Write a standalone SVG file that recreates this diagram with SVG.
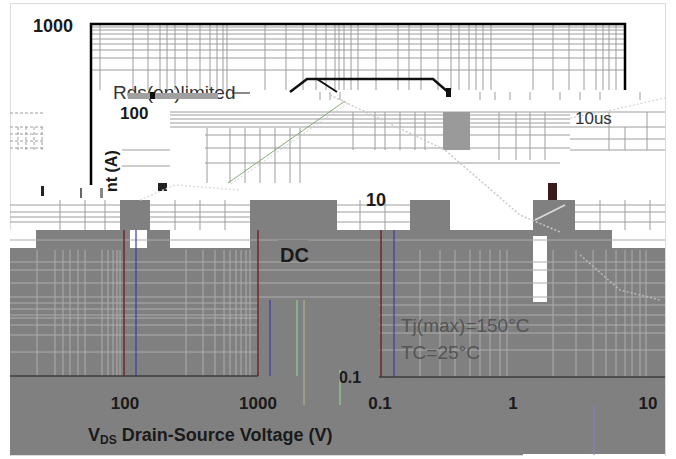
<svg xmlns="http://www.w3.org/2000/svg" width="676" height="459" viewBox="0 0 676 459">
<style>
.g{stroke:#9c9c9c;stroke-width:1;fill:none}
.gg{stroke:#adadad;stroke-width:1;fill:none}
.ax{stroke:#000;stroke-width:2.5;fill:none}
.bx{stroke:#3c3c3c;stroke-width:1.5;fill:none}
.cv{stroke:#111;stroke-width:2.5;fill:none}
.lbl{font-family:"Liberation Sans",Arial,sans-serif;font-weight:bold;fill:#1a1a1a}
.thin{font-family:"Liberation Sans",Arial,sans-serif;fill:#333}
.gt{font-family:"Liberation Sans",Arial,sans-serif;fill:#555}
</style>
<rect x="0" y="0" width="676" height="459" fill="#fff"/>
<rect x="10.5" y="3.5" width="655" height="452" fill="#fff" stroke="#dcdcdc"/>

<!-- top chart grid -->
<g id="top-grid">
<path class="g" d="M90 27H625M90 30H625M90 34H625M90 39H625M90 44H625M90 50H625M90 58H625M90 70H625"/>
<path class="g" d="M100 24V90M133 24V90M148 24V90M160 24V90M167 24V90M175 24V90M187 24V90M200 24V90M210 24V90M217 24V90M223 24V90M227 24V90M265 24V90M286 24V90M303 24V90M316 24V90M326 24V90M335 24V90M339 24V90M344 24V90M351 24V90M358 24V90M376 24V90M398 24V90M409 24V90M421 24V90M438 24V90M451 24V90M459 24V90M469 24V90M476 24V90M483 24V90M491 24V90M533 24V90M553 24V90M569 24V90M584 24V90M596 24V90M603 24V90M609 24V90M616 24V90"/>
<path class="ax" d="M91 185V24H625V90"/>
</g>

<!-- second layer grid -->
<g id="mid-grid">
<path class="g" d="M170 112H665M170 115H570M170 119H570M170 123H570M170 127H665M205 135H570M205 148H570M205 163H560M122 150H170M122 166H170M570 139H665M570 150H665"/>
<path class="g" d="M207 128V183M230 128V183M245 128V183M260 128V183M275 128V183M290 128V183M300 128V183M353 112V150M375 112V150M385 112V150M400 112V150M415 112V150M425 112V150M499 112V160M516 112V160M530 112V160M545 112V160M609 112V150M647 112V150M625 127V150"/>
<path class="g" d="M10 113H43M10 127H43M10 134H43M10 141H43M10 148H43M18 127V150M26 127V150M34 127V150M42 127V150" stroke-dasharray="3 2"/>
<path class="g" d="M320 92V100M330 92V100M340 92V100M480 92V100M495 92V100M510 92V100M530 92V100M560 92V100M580 92V100M600 92V100M640 92V100"/>
<rect x="443" y="112" width="27" height="38" fill="#9a9a9a"/>
</g>

<!-- glitch strip row -->
<g id="strip">
<path class="g" d="M10 205H120M10 212H120M10 217H120M10 222H120M150 205H250M150 212H250M150 217H250M150 222H250M336 205H410M336 212H410M336 222H410M575 205H665M575 212H665M575 222H665"/>
<path class="g" d="M60 200V230M85 200V230M105 200V230M175 200V230M200 200V230M225 200V230M360 200V230M385 200V230M600 200V230M625 200V230M650 200V230"/>
<rect x="158" y="183" width="9" height="8" fill="#222"/>
<rect x="41" y="186" width="3" height="10" fill="#222"/>
<rect x="548" y="183" width="9" height="17" fill="#3a1a1a"/>
<rect x="80" y="188" width="2" height="10" fill="#666"/>
<rect x="100" y="188" width="3" height="10" fill="#888"/>
</g>

<!-- grey lower region -->
<g id="grey-region">
<rect x="10" y="230" width="655" height="225" fill="#808080"/>
<rect x="120" y="200" width="30" height="30" fill="#808080"/>
<rect x="250" y="200" width="87" height="30" fill="#808080"/>
<rect x="410" y="200" width="40" height="30" fill="#808080"/>
<rect x="533" y="200" width="42" height="30" fill="#808080"/>
<rect x="10" y="230" width="26" height="18" fill="#fff"/>
<rect x="130" y="230" width="17" height="18" fill="#fff"/>
<rect x="170" y="230" width="80" height="18" fill="#fff"/>
<rect x="612" y="230" width="53" height="18" fill="#fff"/>
<rect x="533" y="236" width="14" height="66" fill="#fff"/>
<rect x="451" y="203" width="82" height="25" fill="#fff"/>
<rect x="523" y="454" width="142" height="2" fill="#fff"/>
<path class="gg" d="M10 240H665M10 262H665M10 270H665M10 283H665M10 297H665M10 303H258M10 309H258M10 315H258M10 318H258M10 325H258M10 335H258M10 352H258M379 305H665M379 315H665M379 325H665M379 333H665M379 350H665"/>
<path class="gg" d="M37 250V376M55 250V376M63 250V376M70 250V376M78 250V376M85 250V376M102 250V376M108 250V376M113 250V376M117 250V376M120 250V376M186 250V376M203 250V376M215 250V376M224 250V376M230 250V376M236 250V376M241 250V376M246 250V376M250 250V376M420 250V377M440 250V377M455 250V377M470 250V377M480 250V377M490 250V377M500 250V377M507 250V377M553 250V377M576 250V377M593 250V377M606 250V377M616 250V377M625 250V377M632 250V377M640 250V377M646 250V377"/>
<path d="M124 230V376M258 230V376M381 230V377" stroke="#6e2a2a" stroke-width="1.5"/>
<path d="M136 230V376M394 230V377M270 300V376" stroke="#3a3aa8" stroke-width="1.2"/>
<path d="M297 300V376M340 370V405" stroke="#8fd08f" stroke-width="1.2"/>
<path d="M304 300V405" stroke="#b8b090" stroke-width="1.2"/>
<path d="M594 406V455" stroke="#8080d0" stroke-width="1"/>
<path class="bx" d="M10 376H258M379 377H665"/>
</g>

<!-- connectors / curves -->
<g id="connectors">
<path class="cv" d="M290 92L307 79H433L448 92"/>
<path d="M317 79L337 92" stroke="#111" stroke-width="2" fill="none"/>
<rect x="446" y="88" width="5" height="9" fill="#111"/>
<path d="M232 93H250" stroke="#111" stroke-width="1"/>
<path d="M228 183L345 101" stroke="#88a878" stroke-width="1" fill="none"/>
<path d="M231 184L348 103" stroke="#ccc" stroke-width="1" fill="none" stroke-dasharray="2 2"/>
<path d="M330 95L445 150L520 215L560 232" stroke="#c8c8c8" stroke-width="1.5" fill="none" stroke-dasharray="2 2"/>
<path d="M140 200L175 185L240 190" stroke="#ddd" stroke-width="1.5" fill="none" stroke-dasharray="2 2"/>
<path d="M535 220L565 205" stroke="#ddd" stroke-width="1.5" fill="none"/>
<path d="M570 118L612 110L665 98" stroke="#ccc" stroke-width="1" fill="none" stroke-dasharray="2 2"/>
<path d="M580 255L620 290L660 300" stroke="#b8b8b8" stroke-width="1.5" fill="none" stroke-dasharray="2 2"/>
</g>

<!-- labels -->
<g id="labels">
<text class="lbl" x="33" y="32" font-size="18">1000</text>
<text class="lbl" x="120" y="119" font-size="17">100</text>
<text class="thin" x="113" y="99" font-size="19">Rds(on)limited</text>
<rect x="128" y="93" width="90" height="6" fill="#a0a0a0"/>
<rect x="150" y="92" width="5" height="7" fill="#111"/>
<text class="lbl" x="117" y="192" font-size="16" transform="rotate(-90 117 192)">nt (A)</text>
<text class="thin" x="575" y="124" font-size="17">10us</text>
<text class="lbl" x="366" y="206" font-size="18">10</text>
<text class="lbl" x="280" y="262" font-size="20">DC</text>
<rect x="278" y="240" width="30" height="7" fill="#808080"/>
<text class="gt" x="401" y="332" font-size="19">Tj(max)=150°C</text>
<text class="gt" x="401" y="359" font-size="19">TC=25°C</text>
<text class="lbl" x="350" y="383" font-size="16" text-anchor="middle">0.1</text>
<text class="lbl" x="125" y="409" font-size="17" text-anchor="middle">100</text>
<text class="lbl" x="258" y="409" font-size="17" text-anchor="middle">1000</text>
<text class="lbl" x="380" y="409" font-size="17" text-anchor="middle">0.1</text>
<text class="lbl" x="513" y="409" font-size="17" text-anchor="middle">1</text>
<text class="lbl" x="648" y="409" font-size="17" text-anchor="middle">10</text>
<text class="lbl" x="88" y="441" font-size="18" fill="#333">V<tspan font-size="12" dy="3">DS</tspan><tspan dy="-3"> Drain-Source Voltage (V)</tspan></text>
</g>
</svg>
